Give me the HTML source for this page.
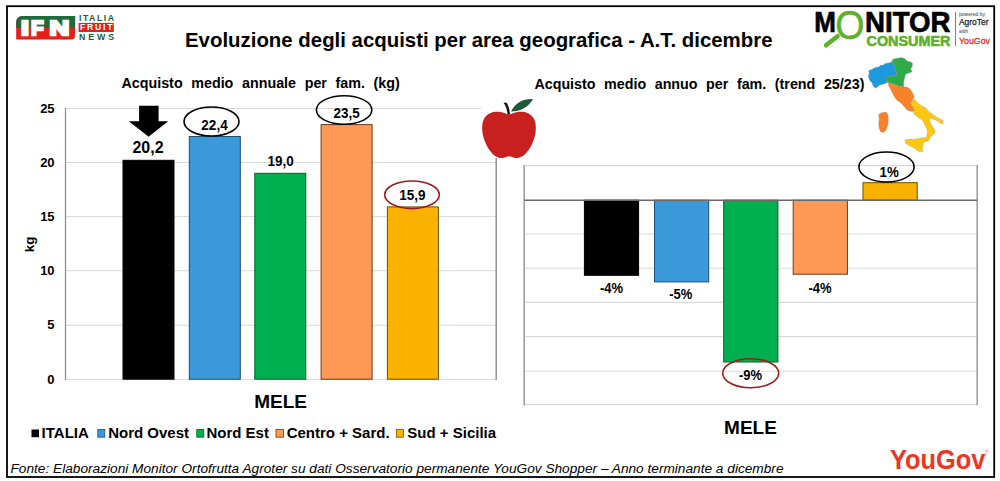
<!DOCTYPE html>
<html><head><meta charset="utf-8">
<style>
html,body{margin:0;padding:0;background:#fff;}
body{width:1000px;height:481px;overflow:hidden;}
svg{display:block;}
text{font-family:"Liberation Sans",Arial,sans-serif;}
</style></head>
<body>
<svg width="1000" height="481" viewBox="0 0 1000 481">
<rect x="0" y="0" width="1000" height="481" fill="#fff"/>

<g>
<path d="M22.2 16 H75.1 V35.4 A4 4 0 0 1 71.1 39.4 H16.2 V22 A6 6 0 0 1 22.2 16 Z" fill="#e3211c"/>
<path d="M22.2 16 H75.1 V27.9 H16.2 V22 A6 6 0 0 1 22.2 16 Z" fill="#1e6b3c"/>
<text x="21.12" y="34.9" font-weight="bold" font-size="21" fill="#fff" stroke="#fff" stroke-width="2.4" stroke-linejoin="miter" textLength="7.86" lengthAdjust="spacingAndGlyphs">I</text>
<text x="31.1" y="34.9" font-weight="bold" font-size="21" fill="#fff" stroke="#fff" stroke-width="2.4" stroke-linejoin="miter" textLength="12.58" lengthAdjust="spacingAndGlyphs">F</text>
<text x="49.63" y="34.9" font-weight="bold" font-size="21" fill="#fff" stroke="#fff" stroke-width="2.4" stroke-linejoin="miter" textLength="19.75" lengthAdjust="spacingAndGlyphs">N</text>
<text x="79" y="21.4" font-weight="bold" font-size="8.8" fill="#1d5c38" textLength="35" lengthAdjust="spacing">ITALIA</text>
<rect x="78.6" y="22.9" width="35.2" height="9.1" fill="#e3211c"/>
<text x="80" y="30.4" font-weight="bold" font-size="8.6" fill="#fff" textLength="32.5" lengthAdjust="spacing">FRUIT</text>
<text x="79" y="39.7" font-weight="bold" font-size="8.8" fill="#1d5c38" textLength="35" lengthAdjust="spacing">NEWS</text>
</g>
<text x="185" y="46.6" font-weight="bold" font-size="20.2" fill="#000" textLength="587.5" lengthAdjust="spacingAndGlyphs">Evoluzione degli acquisti per area geografica - A.T. dicembre</text>
<g>
<text x="814.3" y="32.2" font-weight="bold" font-size="29" fill="#000" stroke="#000" stroke-width="0.7" textLength="21.6" lengthAdjust="spacingAndGlyphs">M</text>
<text x="835.3" y="38.8" font-size="40.5" fill="#5cb02c" stroke="#5cb02c" stroke-width="0.5" textLength="29.3" lengthAdjust="spacingAndGlyphs">O</text>
<line x1="837.6" y1="36.2" x2="826" y2="45.3" stroke="#5cb02c" stroke-width="4.4" stroke-linecap="round"/>
<text x="865" y="32.2" font-weight="bold" font-size="29" fill="#000" stroke="#000" stroke-width="0.7" textLength="85.5" lengthAdjust="spacingAndGlyphs">NITOR</text>
<text x="866.5" y="45.6" font-weight="bold" font-size="14.8" fill="#5cb02c" stroke="#5cb02c" stroke-width="0.6" textLength="84" lengthAdjust="spacingAndGlyphs">CONSUMER</text>
<line x1="955.6" y1="12" x2="955.6" y2="46" stroke="#555" stroke-width="0.8"/>
<text x="959" y="16.3" font-size="4.6" fill="#333" textLength="26" lengthAdjust="spacingAndGlyphs">powered by</text>
<text x="959" y="25.2" font-size="8.4" fill="#222" stroke="#222" stroke-width="0.25" textLength="29.5" lengthAdjust="spacingAndGlyphs">AgroTer</text>
<text x="959" y="33" font-size="4.6" fill="#333" textLength="9" lengthAdjust="spacingAndGlyphs">with</text>
<text x="959" y="43.5" font-size="8.8" fill="#e3302a" stroke="#e3302a" stroke-width="0.3" textLength="31" lengthAdjust="spacingAndGlyphs">YouGov</text>
</g>
<text transform="translate(121.5,88.2) scale(1,1.06)" x="0" y="0" font-size="14.3" font-weight="bold" fill="#000" word-spacing="4.7">Acquisto medio annuale per fam. (kg)</text>
<g stroke="#d9d9d9" stroke-width="1">
<line x1="65.5" y1="108.5" x2="496.2" y2="108.5"/>
<line x1="65.5" y1="162.5" x2="496.2" y2="162.5"/>
<line x1="65.5" y1="216.6" x2="496.2" y2="216.6"/>
<line x1="65.5" y1="270.7" x2="496.2" y2="270.7"/>
<line x1="65.5" y1="325.3" x2="496.2" y2="325.3"/>
<line x1="65.5" y1="379.4" x2="496.2" y2="379.4"/>
</g>
<line x1="496.2" y1="108" x2="496.2" y2="379.9" stroke="#8c8c8c" stroke-width="1.4"/>
<line x1="65.5" y1="108" x2="65.5" y2="379.9" stroke="#858585" stroke-width="1.2"/>
<text transform="translate(54.6,112.6) scale(1,1.04)" x="0" y="0" font-size="13" font-weight="bold" text-anchor="end" fill="#000" >25</text>
<text transform="translate(54.6,166.8) scale(1,1.04)" x="0" y="0" font-size="13" font-weight="bold" text-anchor="end" fill="#000" >20</text>
<text transform="translate(54.6,221.0) scale(1,1.04)" x="0" y="0" font-size="13" font-weight="bold" text-anchor="end" fill="#000" >15</text>
<text transform="translate(54.6,275.1) scale(1,1.04)" x="0" y="0" font-size="13" font-weight="bold" text-anchor="end" fill="#000" >10</text>
<text transform="translate(54.6,329.3) scale(1,1.04)" x="0" y="0" font-size="13" font-weight="bold" text-anchor="end" fill="#000" >5</text>
<text transform="translate(54.6,383.5) scale(1,1.04)" x="0" y="0" font-size="13" font-weight="bold" text-anchor="end" fill="#000" >0</text>
<text transform="translate(34,252.2) rotate(-90)" font-weight="bold" font-size="13.5" fill="#000">kg</text>
<g stroke-width="1">
<rect x="123.0" y="160.3" width="51.0" height="218.9" fill="#000" stroke="#000"/>
<rect x="189.3" y="136.5" width="51.0" height="242.7" fill="#3a9ad9" stroke="#1f4e79"/>
<rect x="254.8" y="173.3" width="51.0" height="205.9" fill="#00b050" stroke="#0b5e2a"/>
<rect x="321.1" y="124.6" width="51.0" height="254.6" fill="#ff9955" stroke="#6b3a1a"/>
<rect x="387.4" y="206.9" width="51.0" height="172.3" fill="#fab200" stroke="#6b5000"/>
</g>
<polygon points="139.1,105.8 158.6,105.8 158.6,121.3 168.2,121.3 148.6,136.8 128.8,121.3 139.1,121.3" fill="#000"/>
<text transform="translate(148,152.5) scale(1,1.04)" x="0" y="0" font-size="16" font-weight="bold" text-anchor="middle" fill="#000" >20,2</text>
<text transform="translate(214.5,130) scale(1,1.08)" x="0" y="0" font-size="13.5" font-weight="bold" text-anchor="middle" fill="#000" >22,4</text>
<text transform="translate(280.7,166.2) scale(1,1.08)" x="0" y="0" font-size="13.5" font-weight="bold" text-anchor="middle" fill="#000" >19,0</text>
<text transform="translate(346.6,117.5) scale(1,1.08)" x="0" y="0" font-size="13.5" font-weight="bold" text-anchor="middle" fill="#000" >23,5</text>
<text transform="translate(412.4,200.3) scale(1,1.08)" x="0" y="0" font-size="13.5" font-weight="bold" text-anchor="middle" fill="#000" >15,9</text>
<ellipse cx="211.5" cy="121.5" rx="27.5" ry="14.5" fill="none" stroke="#000" stroke-width="1.6"/>
<ellipse cx="344.1" cy="110" rx="27.7" ry="14.3" fill="none" stroke="#000" stroke-width="1.6"/>
<ellipse cx="412" cy="194.8" rx="27.3" ry="13.8" fill="none" stroke="#a01c1c" stroke-width="1.6"/>
<text x="280.6" y="408" font-size="19" font-weight="bold" text-anchor="middle" fill="#000" >MELE</text>
<g>
<rect x="481" y="92" width="42" height="66" fill="#fff"/>
<path d="M505.5 113.5 C499 110.5 489 111 484.5 118 C480.5 124.5 482 136 486 144 C489.5 151.5 495 158.5 502 158 C505 157.8 507 156.2 509 156.2 C511 156.2 513 157.8 516 158 C523 158.5 528.5 151.5 532 144 C536 136 537.5 124.5 533.5 118 C529 111 519 110.5 512.5 113.5 C510.5 114.4 507.5 114.4 505.5 113.5 Z" fill="#c81f1f"/>
<path d="M503.6 103.4 C504.6 102.2 506.2 102.2 507 103.2 C508.6 106.4 509.6 110 510 114 L507.6 114.2 C507.2 110.8 506.2 107.4 504.8 104.6 C504.4 104 503.9 103.8 503.6 103.4 Z" fill="#111"/>
<path d="M511 111.5 C515 103 523 98.5 533 99 C529 107 520 111.5 511 111.5 Z" fill="#1b5a3a"/>
</g>
<text transform="translate(534.4,89) scale(1,1.06)" x="0" y="0" font-size="14.3" font-weight="bold" fill="#000" word-spacing="4.6">Acquisto medio annuo per fam. (trend 25/23)</text>
<g stroke="#d9d9d9" stroke-width="1.1">
<line x1="524.2" y1="165.6" x2="977.2" y2="165.6"/>
<line x1="524.2" y1="234.0" x2="977.2" y2="234.0"/>
<line x1="524.2" y1="268.2" x2="977.2" y2="268.2"/>
<line x1="524.2" y1="302.4" x2="977.2" y2="302.4"/>
<line x1="524.2" y1="336.6" x2="977.2" y2="336.6"/>
<line x1="524.2" y1="371.2" x2="977.2" y2="371.2"/>
<line x1="524.2" y1="404.6" x2="977.2" y2="404.6"/>
</g>
<line x1="524.2" y1="165" x2="524.2" y2="405.2" stroke="#999" stroke-width="1.5"/>
<line x1="977.2" y1="165" x2="977.2" y2="405.2" stroke="#999" stroke-width="1.5"/>
<g stroke-width="1">
<rect x="584.4" y="200.2" width="54.2" height="75.1" fill="#000" stroke="#000"/>
<rect x="654.5" y="200.2" width="54.2" height="81.7" fill="#3a9ad9" stroke="#1f4e79"/>
<rect x="723.7" y="200.2" width="54.2" height="161.8" fill="#00b050" stroke="#0b5e2a"/>
<rect x="793.2" y="200.2" width="54.2" height="74.0" fill="#ff9955" stroke="#6b3a1a"/>
<rect x="863.0" y="182.7" width="54.2" height="17.5" fill="#fab200" stroke="#6b5000"/>
</g>
<line x1="524.2" y1="200.3" x2="977.2" y2="200.3" stroke="#6a6a6a" stroke-width="1.6"/>
<text transform="translate(611.6,293.2) scale(1,1.15)" x="0" y="0" font-size="13" font-weight="bold" text-anchor="middle" fill="#000" >-4%</text>
<text transform="translate(680.8,299.4) scale(1,1.15)" x="0" y="0" font-size="13" font-weight="bold" text-anchor="middle" fill="#000" >-5%</text>
<text transform="translate(750.5,380.0) scale(1,1.15)" x="0" y="0" font-size="13" font-weight="bold" text-anchor="middle" fill="#000" >-9%</text>
<text transform="translate(820.0,292.7) scale(1,1.15)" x="0" y="0" font-size="13" font-weight="bold" text-anchor="middle" fill="#000" >-4%</text>
<text transform="translate(889.2,176.6) scale(1,1.1)" x="0" y="0" font-size="13.3" font-weight="bold" text-anchor="middle" fill="#000" >1%</text>
<ellipse cx="750.7" cy="373.2" rx="28" ry="14.5" fill="none" stroke="#a01c1c" stroke-width="1.6"/>
<ellipse cx="886.5" cy="167" rx="27.6" ry="15" fill="none" stroke="#000" stroke-width="1.6"/>
<text x="750.5" y="434" font-size="19" font-weight="bold" text-anchor="middle" fill="#000" >MELE</text>
<g id="italy" stroke="#8a8a8a" stroke-width="0.3" stroke-linejoin="round">
<polygon fill="#1b9ae0" points="868.7,70.8 872.0,69.2 875.3,67.5 878.6,67.0 880.8,64.9 882.9,65.3 885.1,63.5 888.4,63.1 891.7,62.0 893.2,63.1 895.0,66.4 895.4,69.7 897.1,72.9 896.0,75.8 890.6,76.2 886.2,77.3 885.8,80.1 888.0,82.3 884.0,83.9 879.7,85.0 875.7,88.2 873.1,86.0 872.0,82.8 869.8,80.6 868.3,76.2 869.2,73.6"/>
<polygon fill="#2eaa48" points="891.7,62.0 892.8,59.2 897.1,58.3 901.5,57.6 904.8,58.7 907.0,60.9 910.7,62.0 912.4,63.1 912.4,66.4 910.7,68.6 912.0,71.8 909.2,72.9 905.9,74.0 904.8,77.3 903.7,81.7 903.7,87.1 898.2,86.0 892.8,83.9 888.0,82.3 885.8,80.1 886.2,77.3 890.6,76.2 896.0,75.8 897.1,72.9 895.4,69.7 895.0,66.4 893.2,63.1"/>
<polygon fill="#f7822a" points="888.0,82.3 892.8,83.9 898.2,86.0 903.7,87.1 907.0,87.1 910.2,89.3 912.4,92.6 914.2,97.0 912.4,100.2 910.7,103.5 913.5,107.9 914.2,111.2 911.3,111.6 907.0,110.1 904.8,107.2 901.5,103.5 897.1,100.2 894.5,97.0 892.8,93.7 890.6,89.3 888.8,86.0"/>
<polygon fill="#fdc80f" points="912.4,100.2 914.6,99.8 917.2,102.4 921.2,105.7 925.1,107.2 926.6,109.0 929.5,112.3 934.3,115.5 938.6,118.2 942.6,120.3 943.4,123.2 941.3,123.8 937.5,121.0 934.3,119.5 931.0,118.2 929.5,119.9 931.0,124.3 933.8,128.6 935.4,131.9 932.5,135.2 929.9,137.4 928.8,140.7 925.5,141.7 924.4,139.6 926.6,136.3 927.7,131.9 926.6,128.6 924.4,124.3 922.3,119.9 918.5,117.7 915.7,115.5 913.5,113.3 914.2,111.2 913.5,107.9 910.7,103.5"/>
<polygon fill="#fdc80f" points="904.8,140.0 909.2,139.1 913.5,139.6 919.0,138.5 924.4,137.4 925.5,139.6 923.3,143.9 922.3,148.3 922.9,151.6 919.0,151.6 914.6,148.3 910.2,146.1 905.9,143.5"/>
<polygon fill="#f7822a" points="878.6,114.4 880.8,112.9 884.0,112.3 886.7,112.3 888.0,115.5 888.4,119.9 887.7,125.4 886.2,129.7 883.6,132.6 880.8,131.9 879.2,128.6 878.6,123.2 879.2,118.8"/>
</g>
<rect x="31.5" y="429.5" width="7.5" height="7.7" fill="#000"/>
<text x="41.6" y="437.6" font-size="15" font-weight="bold" fill="#000" >ITALIA</text>
<rect x="97.8" y="429.5" width="7.0" height="7.7" fill="#3a9ad9" stroke="#1f4e79" stroke-width="0.8"/>
<text x="108.2" y="437.6" font-size="15" font-weight="bold" fill="#000" >Nord Ovest</text>
<rect x="196.8" y="429.5" width="7.0" height="7.7" fill="#00b050" stroke="#0b5e2a" stroke-width="0.8"/>
<text x="206.4" y="437.6" font-size="15" font-weight="bold" fill="#000" >Nord Est</text>
<rect x="276.0" y="429.5" width="7.5" height="7.7" fill="#ff9955" stroke="#6b3a1a" stroke-width="0.8"/>
<text x="286.7" y="437.6" font-size="15" font-weight="bold" fill="#000" >Centro + Sard.</text>
<rect x="396.3" y="429.5" width="7.3" height="7.7" fill="#fab200" stroke="#6b5000" stroke-width="0.8"/>
<text x="407.3" y="437.6" font-size="15" font-weight="bold" fill="#000" >Sud + Sicilia</text>
<text x="10.5" y="473" font-style="italic" font-size="13.7" fill="#000" textLength="773" lengthAdjust="spacingAndGlyphs">Fonte: Elaborazioni Monitor Ortofrutta Agroter su dati Osservatorio permanente YouGov Shopper – Anno terminante a dicembre</text>
<text x="890" y="468.6" font-weight="bold" font-size="27.8" fill="#ee3524" textLength="95.5" lengthAdjust="spacingAndGlyphs">YouGov</text>
<text x="984.6" y="453.6" font-size="5.5" fill="#f08878">®</text>
<rect x="7" y="6.2" width="987.2" height="470.8" fill="none" stroke="#000" stroke-width="1.8"/>
</svg>
</body></html>
